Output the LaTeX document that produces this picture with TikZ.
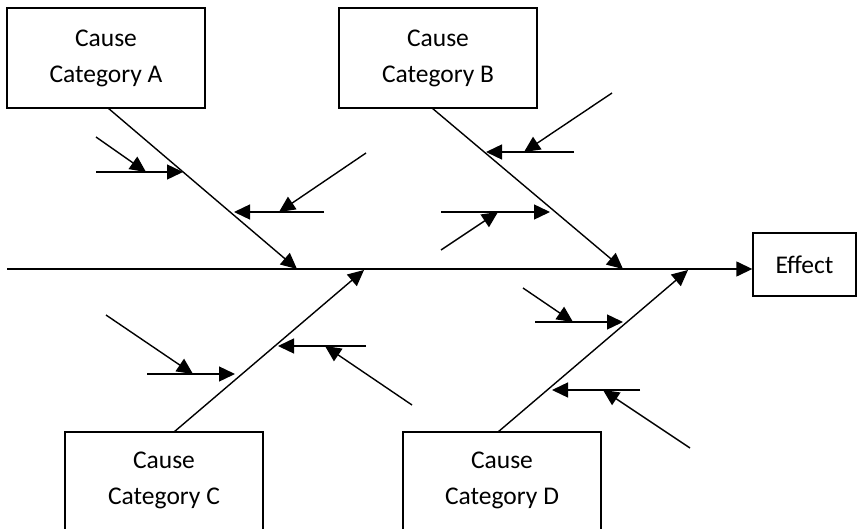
\documentclass[tikz,border=0pt]{standalone}
\usepackage{fontspec}
\setmainfont{Carlito}
\usetikzlibrary{arrows.meta}
\begin{document}
\begin{tikzpicture}[x=1pt,y=-1pt,line width=1.4pt,
  box/.style={draw,rectangle,inner sep=0pt,align=center,font=\fontsize{25.5}{36}\selectfont},
  lbl/.style={align=center,inner sep=0pt,font=\fontsize{25.5}{36}\selectfont},
  arr/.style={-{Triangle[length=16pt,width=15pt]}}]
\useasboundingbox (0,0) rectangle (858,529);
% category boxes
\node[box,minimum width=198pt,minimum height=100pt] (A) at (106,58) {Cause\\Category A};
\node[box,minimum width=198pt,minimum height=100pt] (B) at (438,58) {Cause\\Category B};
\node[box,minimum width=198pt,minimum height=110pt] (C) at (164,487) {};
\node[lbl] (Ct) at (164,480) {Cause\\Category C};
\node[box,minimum width=198pt,minimum height=110pt] (D) at (502,487) {};
\node[lbl] (Dt) at (502,480) {Cause\\Category D};
\node[box,minimum width=103pt,minimum height=63pt] (E) at (804.5,264.5) {Effect};
% spine
\coordinate (S) at (7,269);
\draw[arr] (S) -- (S -| E.west);
% bones
\coordinate (Ab) at (108,108); \coordinate (At) at (297,269);
\coordinate (Bb) at (432,108); \coordinate (Bt) at (623,269);
\coordinate (Cb) at (174,432); \coordinate (Ct2) at (364,270);
\coordinate (Db) at (498,432); \coordinate (Dt2) at (688,270);
\draw[arr] (Ab) -- (At);
\draw[arr] (Bb) -- (Bt);
\draw[arr] (Cb) -- (Ct2);
\draw[arr] (Db) -- (Dt2);
% sub-causes A
\coordinate (a1s) at (96,172); \coordinate (a1e) at (183,172);
\coordinate (a1d) at (96,137); \coordinate (a1m) at (146,172);
\draw[arr] (a1s) -- (a1e); \draw[arr] (a1d) -- (a1m);
\coordinate (a2s) at (324,212); \coordinate (a2e) at (234,212);
\coordinate (a2d) at (366,153); \coordinate (a2m) at (279,212);
\draw[arr] (a2s) -- (a2e); \draw[arr] (a2d) -- (a2m);
% sub-causes B
\coordinate (b1s) at (574,152); \coordinate (b1e) at (486,152);
\coordinate (b1d) at (612,93); \coordinate (b1m) at (524,152);
\draw[arr] (b1s) -- (b1e); \draw[arr] (b1d) -- (b1m);
\coordinate (b2s) at (441,212); \coordinate (b2e) at (550,212);
\coordinate (b2d) at (441,250); \coordinate (b2m) at (498,212);
\draw[arr] (b2s) -- (b2e); \draw[arr] (b2d) -- (b2m);
% sub-causes C
\coordinate (c1s) at (147,374); \coordinate (c1e) at (235,374);
\coordinate (c1d) at (106,315); \coordinate (c1m) at (193,374);
\draw[arr] (c1s) -- (c1e); \draw[arr] (c1d) -- (c1m);
\coordinate (c2s) at (366,346); \coordinate (c2e) at (278,346);
\coordinate (c2d) at (412,405); \coordinate (c2m) at (325,346);
\draw[arr] (c2s) -- (c2e); \draw[arr] (c2d) -- (c2m);
% sub-causes D
\coordinate (d1s) at (535,322); \coordinate (d1e) at (623,322);
\coordinate (d1d) at (523,288); \coordinate (d1m) at (573,322);
\draw[arr] (d1s) -- (d1e); \draw[arr] (d1d) -- (d1m);
\coordinate (d2s) at (640,390); \coordinate (d2e) at (552,390);
\coordinate (d2d) at (690,448); \coordinate (d2m) at (603,390);
\draw[arr] (d2s) -- (d2e); \draw[arr] (d2d) -- (d2m);
\end{tikzpicture}
\end{document}
